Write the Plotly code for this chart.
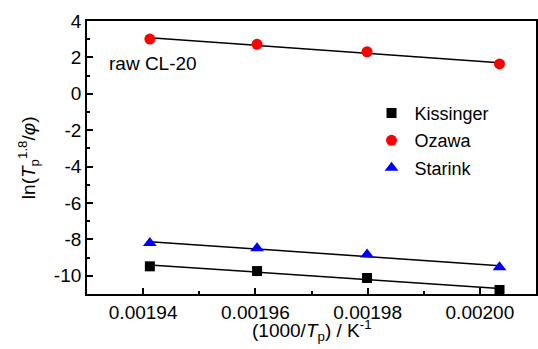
import numpy as np
import plotly.graph_objects as go

x_vals = [0.0019412, 0.0019603, 0.0019799, 0.0020035]
kissinger = [-9.48, -9.74, -10.12, -10.78]
ozawa = [3.01, 2.72, 2.31, 1.64]
starink = [-8.20, -8.48, -8.83, -9.53]

series = [
    ("Kissinger", kissinger, "square", "#000000", 10),
    ("Ozawa", ozawa, "circle", "#ff0000", 11),
    ("Starink", starink, "triangle-up", "#0000ff", 12),
]

xtick_vals = [0.00194, 0.00196, 0.00198, 0.00200]
xtick_text = ["0.00194", "0.00196", "0.00198", "0.00200"]
ytick_vals = [4, 2, 0, -2, -4, -6, -8, -10]
ytick_text = ["4", "2", "0", "-2", "-4", "-6", "-8", "-10"]

FONT = "Liberation Sans, Arial, sans-serif"
FS = 19

fig = go.Figure()
xa = np.array(x_vals)
for i, (name, ys, sym, col, sz) in enumerate(series):
    k, b = np.polyfit(xa, np.array(ys), 1)
    xl = np.array([xa.min(), xa.max()])
    fig.add_trace(go.Scatter(x=xl, y=k * xl + b, mode="lines",
                             line=dict(color="black", width=1.5),
                             showlegend=False, hoverinfo="skip"))
for i, (name, ys, sym, col, sz) in enumerate(series):
    fig.add_trace(go.Scatter(x=x_vals, y=ys, mode="markers", name=name,
                             legendgroup=name,
                             marker=dict(symbol=sym, color=col, size=sz,
                                         line=dict(width=0))))

fig.update_layout(
    width=538, height=349,
    margin=dict(l=87, r=0, t=21, b=55),
    paper_bgcolor="white", plot_bgcolor="white",
    font=dict(family=FONT, size=FS, color="black"),
    showlegend=True,
    legend=dict(x=0.627, y=0.73, xanchor="left", yanchor="top",
                bgcolor="rgba(0,0,0,0)", tracegroupgap=1,
                font=dict(size=18), itemwidth=36),
    xaxis=dict(range=[0.00193, 0.00201], showgrid=False, zeroline=False,
               showline=True, linecolor="black", linewidth=1.8, mirror=True,
               ticks="inside", ticklen=6, tickwidth=1.5, tickcolor="black",
               tickvals=xtick_vals, ticktext=xtick_text,
               tickfont=dict(size=FS),
               minor=dict(ticks="inside", ticklen=3, tickwidth=1.5,
                          tickcolor="black", dtick=0.00001, tick0=0.00193)),
    yaxis=dict(range=[-11, 4], showgrid=False, zeroline=False,
               showline=True, linecolor="black", linewidth=1.8, mirror=True,
               ticks="inside", ticklen=6, tickwidth=1.5, tickcolor="black",
               tickvals=ytick_vals, ticktext=ytick_text,
               tickfont=dict(size=FS),
               minor=dict(ticks="inside", ticklen=3, tickwidth=1.5,
                          tickcolor="black", dtick=1, tick0=-11)),
    annotations=[
        dict(text="raw CL-20", x=0.045, y=0.846, xref="paper", yref="paper",
             xanchor="left", yanchor="middle", showarrow=False,
             font=dict(size=FS)),
        dict(text="(1000/<i>T</i><sub>p</sub>) / K<sup>-1</sup>",
             x=0.5, y=-0.135, xref="paper", yref="paper",
             xanchor="center", yanchor="middle", showarrow=False,
             font=dict(size=FS)),
        dict(text="ln(<i>T</i><sub>p</sub><sup>1.8</sup>/<i>φ</i>)",
             x=-0.13, y=0.50, xref="paper", yref="paper", textangle=-90,
             xanchor="center", yanchor="middle", showarrow=False,
             font=dict(size=FS)),
    ],
)

fig.write_html("out.html")
